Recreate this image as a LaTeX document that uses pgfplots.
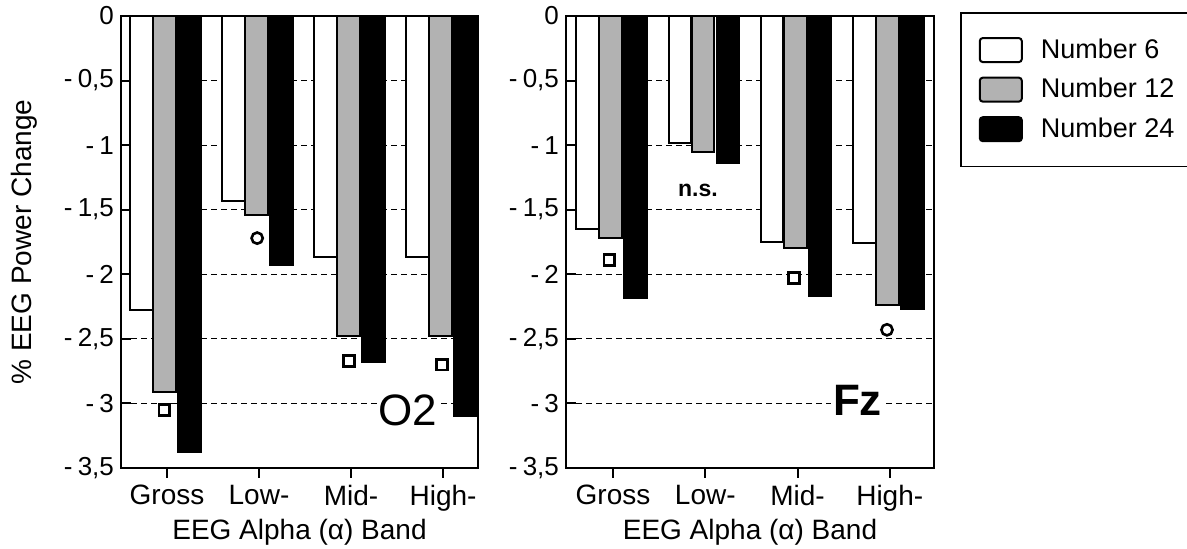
\documentclass[border=0pt]{standalone}
\usepackage{fontspec}
\setmainfont{Liberation Sans}
\usepackage{pgfplots}
\pgfplotsset{compat=1.18}

\pgfplotsset{
  eegaxis/.style={
    scale only axis, height=226pt,
    ymin=-3.5, ymax=0,
    ytick={-3.5,-3,-2.5,-2,-1.5,-1,-0.5,0},
    yticklabels={{-\hspace{0.2em}3,5},{-\hspace{0.2em}3},{-\hspace{0.2em}2,5},{-\hspace{0.2em}2},{-\hspace{0.2em}1,5},{-\hspace{0.2em}1},{-\hspace{0.2em}0,5},0},
    xtick={0,1,2,3}, xticklabels={Gross,Low-,Mid-,High-},
    ytick pos=left, xtick pos=bottom,
    xtick align=center, ytick align=inside,
    major tick length=5pt,
    y tick label style={font=\fontsize{13}{15}\selectfont},
    x tick label style={font=\fontsize{14}{16}\selectfont},
    ymajorgrids, grid style={densely dashed, line width=0.6pt, black},
    axis line style={line width=1.1pt},
    tick style={line width=1pt, black},
    xlabel={EEG Alpha (α) Band},
    xlabel style={at={(axis description cs:0.5,-0.142)}, anchor=center, font=\fontsize{14}{16}\selectfont},
    ybar, bar width=0.245,
  },
  white bar/.style={fill=white, draw=black, line width=1pt, bar shift=-0.275},
  grey bar/.style={fill=black!30, draw=black, line width=1pt, bar shift=-0.025},
  black bar/.style={fill=black, draw=black, line width=1pt, bar shift=0.245},
  sig square/.style={sharp plot, only marks, mark=square*, mark size=2.7pt,
    mark options={fill=white, draw=black, line width=1.3pt}, forget plot},
  sig circle/.style={sharp plot, only marks, mark=*, mark size=2.8pt,
    mark options={fill=white, draw=black, line width=1.3pt}, forget plot},
}

\begin{document}
\begin{tikzpicture}
\useasboundingbox (0,0) rectangle (593.5pt,274.5pt);

% O2
\begin{axis}[eegaxis,
    at={(60.5pt,40.5pt)}, anchor=south west,
    width=178.5pt, xmin=-0.5, xmax=3.38,
    ylabel={\% EEG Power Change},
    ylabel style={at={(axis description cs:-0.27,0.5)}, anchor=center, rotate=0, font=\fontsize{14}{16}\selectfont},
]
\addplot[white bar] coordinates {(0,-2.28) (1,-1.43) (2,-1.87) (3,-1.87)};
\addplot[grey bar]  coordinates {(0,-2.91) (1,-1.54) (2,-2.48) (3,-2.48)};
\addplot[black bar] coordinates {(0,-3.38) (1,-1.93) (2,-2.68) (3,-3.10)};
\addplot[sig square] coordinates {(-0.03,-3.05) (1.98,-2.67) (2.99,-2.70)};
\addplot[sig circle] coordinates {(0.98,-1.72)};
\node[fill=white, inner sep=1pt, font=\fontsize{22}{24}\selectfont] at (axis cs:2.62,-3.05) {O2};
\end{axis}

% Fz
\begin{axis}[eegaxis,
    at={(283pt,40.5pt)}, anchor=south west,
    width=184pt, xmin=-0.51, xmax=3.48,
    legend style={at={(1,1)}, anchor=north west, xshift=13pt, yshift=2pt,
      draw=black, line width=0.8pt, font=\fontsize{13.5}{15}\selectfont,
      row sep=4.5pt, inner xsep=9pt, inner ysep=11pt,
      /tikz/every odd column/.append style={column sep=7pt}},
    legend cell align=left,
    legend image code/.code={\draw[#1, rounded corners=1.5pt] (0pt,-6pt) rectangle (21pt,6pt);},
]
\addplot[white bar] coordinates {(0,-1.65) (1,-0.98) (2,-1.75) (3,-1.76)};
\addplot[grey bar]  coordinates {(0,-1.72) (1,-1.05) (2,-1.80) (3,-2.24)};
\addplot[black bar] coordinates {(0,-2.18) (1,-1.14) (2,-2.17) (3,-2.27)};
\addplot[sig square] coordinates {(-0.04,-1.89) (1.96,-2.03)};
\addplot[sig circle] coordinates {(2.97,-2.43)};
\node[font=\bfseries\fontsize{11.5}{13}\selectfont] at (axis cs:0.92,-1.35) {n.s.};
\node[fill=white, inner sep=1pt, font=\bfseries\fontsize{22}{24}\selectfont] at (axis cs:2.65,-2.98) {Fz};
\legend{Number 6, Number 12, Number 24}
\end{axis}
\end{tikzpicture}
\end{document}
